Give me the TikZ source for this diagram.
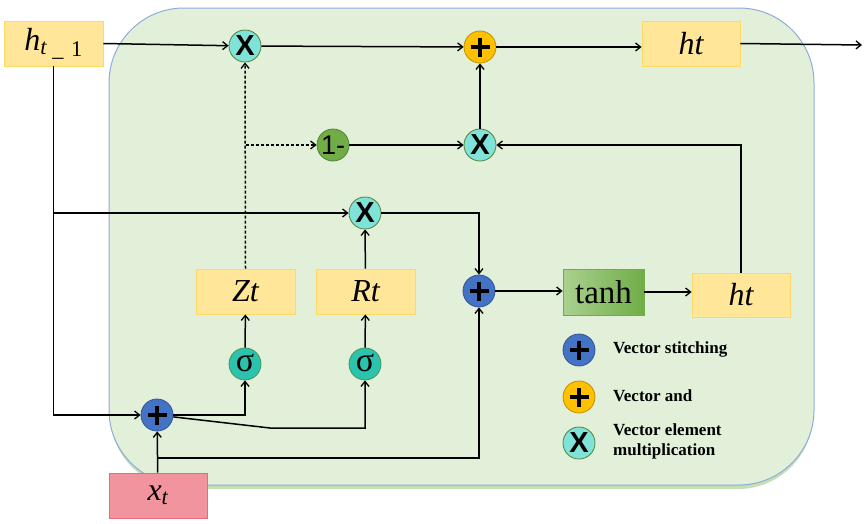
\documentclass[tikz,border=0pt]{standalone}
\usepackage{fontspec}
\setmainfont{Liberation Serif}
\newfontfamily\legfont{Liberation Serif}
\newfontfamily\xfont{Liberation Sans}
\usetikzlibrary{arrows.meta,shadings}
\definecolor{bgfill}{HTML}{E2F0D9}
\definecolor{bgedge}{HTML}{8FAADC}
\definecolor{bgshadow}{HTML}{C5E0B4}
\definecolor{yfill}{HTML}{FFE699}
\definecolor{yedge}{HTML}{FFD966}
\definecolor{pfill}{HTML}{F1949E}
\definecolor{pedge}{HTML}{E8697A}
\definecolor{xfill}{HTML}{7FE3DA}
\definecolor{gedge}{HTML}{548235}
\definecolor{sfill}{HTML}{2BC2AE}
\definecolor{bfill}{HTML}{4472C4}
\definecolor{bedge}{HTML}{2F5597}
\definecolor{ofill}{HTML}{FFC000}
\definecolor{oedge}{HTML}{BF9000}
\definecolor{gfill}{HTML}{70AD47}
\definecolor{tlight}{HTML}{A9D18E}
\tikzset{
  ybox/.style={draw=yedge, fill=yfill, line width=0.8pt, minimum width=99pt, minimum height=45pt, inner sep=0pt, font=\itshape\fontsize{32}{34}\selectfont},
  opc/.style={circle, minimum size=32pt, inner sep=0pt, line width=0.8pt},
  xcirc/.style={opc, draw=gedge, fill=xfill, font=\xfont\bfseries\fontsize{29}{30}\selectfont},
  scirc/.style={opc, draw=gedge!70!sfill, fill=sfill, font=\fontsize{34}{34}\selectfont},
  bcirc/.style={opc, draw=bedge, fill=bfill},
  ocirc/.style={opc, draw=oedge, fill=ofill},
  gcirc/.style={opc, draw=gedge, fill=gfill, font=\xfont\fontsize{27}{28}\selectfont},
  legtext/.style={anchor=west, align=left, font=\legfont\bfseries\fontsize{17}{20}\selectfont, inner sep=0pt},
  conn/.style={line width=1.5pt, -{Straight Barb[length=5pt,width=8pt,line width=1.3pt]}},
  dashconn/.style={conn, dash pattern=on 3pt off 2pt},
}
\newcommand{\plussign}[1]{\draw[line width=3.2pt] ([xshift=-9.5pt]#1.center) -- ([xshift=9.5pt]#1.center) ([yshift=-9.5pt]#1.center) -- ([yshift=9.5pt]#1.center);}
\begin{document}
\begin{tikzpicture}[x=1pt,y=-1pt]
\useasboundingbox (0,0) rectangle (867,523);
% background
\fill[bgshadow, rounded corners=75pt] (110,12) rectangle (813,489);
\draw[bgedge, fill=bgfill, line width=1pt, rounded corners=75pt] (109,8) rectangle (814,485);

% boxes
\node[ybox] (hprev) at (53.5,43.5) {h\textsubscript{t}\,\textsubscript{\upshape\_\,\,1}};
\node[ybox, minimum width=98pt] (httop) at (691,43.5) {ht};
\node[ybox] (Zt) at (245.5,291.5) {Zt};
\node[ybox] (Rt) at (365.5,291.5) {Rt};
\node[ybox, minimum width=98pt, minimum height=44pt] (htl) at (741,295) {ht};
\node[draw=pedge, fill=pfill, line width=0.8pt, minimum width=98pt, minimum height=45pt, inner sep=0pt, font=\itshape\fontsize{32}{34}\selectfont] (xt) at (158,495.5) {x\textsubscript{t}};
\node[draw=gfill, left color=tlight, right color=gfill, line width=0.8pt, minimum width=81pt, minimum height=46pt, inner sep=0pt, font=\legfont\fontsize{33}{34}\selectfont] (tanh) at (603.5,292) {tanh};

% operators
\node[xcirc] (xtop) at (245,46) {X};
\node[ocirc] (padd) at (480,47) {};
\node[gcirc] (one) at (333,145) {1-};
\node[xcirc] (xmid) at (480,145) {X};
\node[xcirc] (xlow) at (365,213) {X};
\node[bcirc] (pmid) at (479,291) {};
\node[scirc] (sz) at (245,364) {\raisebox{2pt}{σ}};
\node[scirc] (sr) at (365,364) {\raisebox{2pt}{σ}};
\node[bcirc] (pbot) at (157,415) {};
\plussign{padd}
\plussign{pmid}
\plussign{pbot}

% legend
\node[bcirc] (lb) at (579,350) {};
\node[ocirc] (lo) at (579,397) {};
\node[xcirc] (lx) at (579,443) {X};
\plussign{lb}
\plussign{lo}
\node[legtext] (tb) at (613,349) {Vector stitching};
\node[legtext] (to) at (613,396) {Vector and};
\node[legtext] (tx) at (613,441) {Vector element\\multiplication};

% connectors
\coordinate (out) at (862,45);
\coordinate (bend) at (270,428);
\coordinate (xbr) at (157,458);
\draw[conn] (hprev.east) -- (xtop);
\draw[conn] (hprev.south) |- (pbot);
\draw[conn] (hprev.south |- xlow) -- (xlow);
\draw[conn] (xtop) -- (padd);
\draw[conn] (padd) -- (httop.west |- padd);
\draw[conn] (httop.east) -- (out);
\draw[dashconn] (Zt.north) -- (xtop);
\draw[dashconn] (Zt.north |- one) -- (one);
\draw[conn] (one) -- (xmid);
\draw[conn] (xmid) -- (padd);
\draw[conn] (htl.north) |- (xmid);
\draw[conn] (Rt) -- (xlow);
\draw[conn] (xlow) -| (pmid);
\draw[conn] (pmid) -- (tanh.west |- pmid);
\draw[conn] (tanh.east) -- (tanh.east -| htl.west);
\draw[conn] (sz) -- (Zt);
\draw[conn] (sr) -- (Rt);
\draw[conn] (pbot) -| (sz);
\draw[conn] (pbot) -- (bend) -| (sr);
\draw[conn] (xt) -- (pbot);
\draw[conn] (xbr) -| (pmid);
\end{tikzpicture}
\end{document}
